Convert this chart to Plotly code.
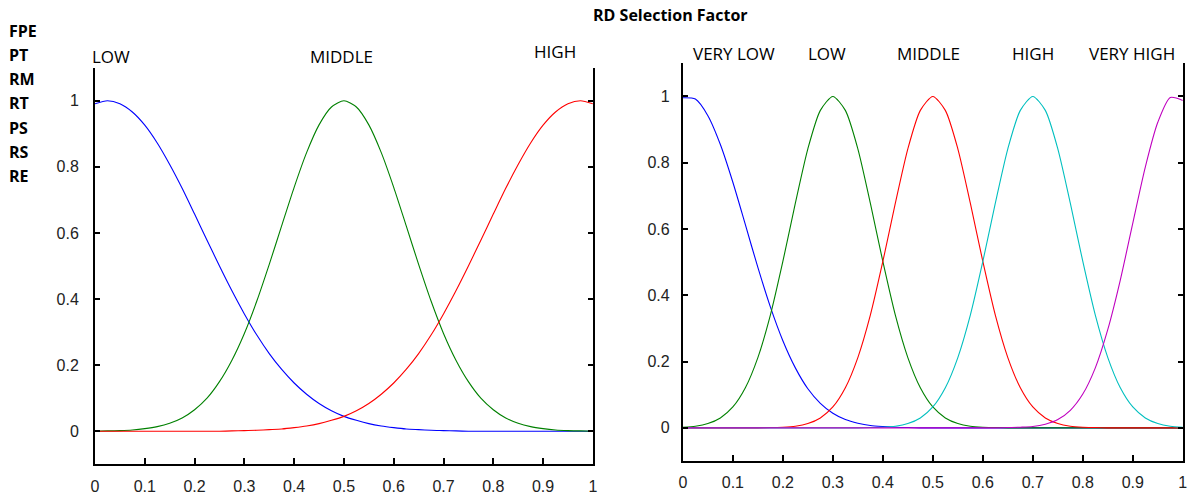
import plotly.graph_objects as go

# Membership functions of the "RD Selection Factor" on [0, 1]
X = [0.000, 0.025, 0.050, 0.075, 0.100, 0.125, 0.150, 0.175, 0.200, 0.225,
     0.250, 0.275, 0.300, 0.325, 0.350, 0.375, 0.400, 0.425, 0.450, 0.475,
     0.500, 0.525, 0.550, 0.575, 0.600, 0.625, 0.650, 0.675, 0.700, 0.725,
     0.750, 0.775, 0.800, 0.825, 0.850, 0.875, 0.900, 0.925, 0.950, 0.975,
     1.000]

# Left panel: three-term partition
low3 = [0.991, 1.000, 0.991, 0.966, 0.926, 0.872, 0.807, 0.735, 0.657, 0.578,
        0.500, 0.425, 0.355, 0.291, 0.235, 0.187, 0.146, 0.112, 0.084, 0.062,
        0.045, 0.033, 0.023, 0.016, 0.011, 0.007, 0.005, 0.003, 0.002, 0.001,
        0.0, 0.0, 0.0, 0.0, 0.0, 0.0, 0.0, 0.0, 0.0, 0.0, 0.0]
middle3 = [0.000, 0.001, 0.002, 0.004, 0.008, 0.014, 0.024, 0.040, 0.065, 0.100,
           0.150, 0.215, 0.296, 0.394, 0.505, 0.622, 0.738, 0.843, 0.927, 0.981,
           1.000, 0.981, 0.927, 0.843, 0.738, 0.622, 0.505, 0.394, 0.296, 0.215,
           0.150, 0.100, 0.065, 0.040, 0.024, 0.014, 0.008, 0.004, 0.002, 0.001,
           0.000]
high3 = [0.0, 0.0, 0.0, 0.0, 0.0, 0.0, 0.0, 0.0, 0.0, 0.0, 0.0,
         0.001, 0.002, 0.003, 0.005, 0.007, 0.011, 0.016, 0.023, 0.033,
         0.045, 0.062, 0.084, 0.112, 0.146, 0.187, 0.235, 0.291, 0.355, 0.425,
         0.500, 0.578, 0.657, 0.735, 0.807, 0.872, 0.926, 0.966, 0.991, 1.000,
         0.991]

# Right panel: five-term partition
very_low5 = [0.996, 0.992, 0.942, 0.855, 0.741, 0.613, 0.484, 0.365, 0.263, 0.181,
             0.118, 0.074, 0.044, 0.025, 0.014, 0.007, 0.004, 0.002, 0.001,
             0.0, 0.0, 0.0, 0.0, 0.0, 0.0, 0.0, 0.0, 0.0, 0.0, 0.0, 0.0,
             0.0, 0.0, 0.0, 0.0, 0.0, 0.0, 0.0, 0.0, 0.0, 0.0]
low5 = [0.002, 0.005, 0.013, 0.030, 0.063, 0.121, 0.212, 0.340, 0.502, 0.678,
        0.842, 0.958, 1.000, 0.958, 0.842, 0.678, 0.502, 0.340, 0.212, 0.121,
        0.063, 0.030, 0.013, 0.005, 0.002, 0.001,
        0.0, 0.0, 0.0, 0.0, 0.0, 0.0, 0.0, 0.0, 0.0, 0.0, 0.0, 0.0, 0.0, 0.0, 0.0]
middle5 = [0.0, 0.0, 0.0, 0.0, 0.0, 0.0, 0.0,
           0.001, 0.002, 0.005, 0.013, 0.030, 0.063, 0.121, 0.212, 0.340,
           0.502, 0.678, 0.842, 0.958, 1.000, 0.958, 0.842, 0.678, 0.502,
           0.340, 0.212, 0.121, 0.063, 0.030, 0.013, 0.005, 0.002, 0.001,
           0.0, 0.0, 0.0, 0.0, 0.0, 0.0, 0.0]
high5 = [0.0, 0.0, 0.0, 0.0, 0.0, 0.0, 0.0, 0.0, 0.0, 0.0, 0.0, 0.0, 0.0, 0.0, 0.0,
         0.001, 0.002, 0.005, 0.013, 0.030, 0.063, 0.121, 0.212, 0.340, 0.502,
         0.678, 0.842, 0.958, 1.000, 0.958, 0.842, 0.678, 0.502, 0.340, 0.212,
         0.121, 0.063, 0.030, 0.013, 0.005, 0.002]
very_high5 = [0.0, 0.0, 0.0, 0.0, 0.0, 0.0, 0.0, 0.0, 0.0, 0.0, 0.0, 0.0, 0.0,
              0.0, 0.0, 0.0, 0.0, 0.0, 0.0, 0.0, 0.0, 0.0, 0.0, 0.0, 0.0, 0.0,
              0.001, 0.002, 0.004, 0.011, 0.025, 0.053, 0.102, 0.181, 0.297,
              0.446, 0.618, 0.787, 0.922, 0.997, 0.988]

x_ticks = [0, 0.1, 0.2, 0.3, 0.4, 0.5, 0.6, 0.7, 0.8, 0.9, 1]
x_tick_text = ["0", "0.1", "0.2", "0.3", "0.4", "0.5", "0.6", "0.7", "0.8", "0.9", "1"]
y_ticks = [0, 0.2, 0.4, 0.6, 0.8, 1]
y_tick_text = ["0", "0.2", "0.4", "0.6", "0.8", "1"]

row_labels = ["FPE", "PT", "RM", "RT", "PS", "RS", "RE"]
title_text = "RD Selection Factor"

BLUE, GREEN, RED, CYAN, MAGENTA = "#0000ff", "#008000", "#ff0000", "#00bfbf", "#bf00bf"

W, H = 1201, 498
px = lambda v: v / W
py = lambda v: 1 - v / H

fig = go.Figure()

def curve(y, color, xa, ya):
    fig.add_trace(go.Scatter(
        x=X, y=y, mode="lines", xaxis=xa, yaxis=ya, showlegend=False,
        line=dict(color=color, width=1.1, shape="spline", smoothing=0.7),
        hoverinfo="skip"))

curve(low3, BLUE, "x", "y")
curve(middle3, GREEN, "x", "y")
curve(high3, RED, "x", "y")

curve(very_low5, BLUE, "x2", "y2")
curve(low5, GREEN, "x2", "y2")
curve(middle5, RED, "x2", "y2")
curve(high5, CYAN, "x2", "y2")
curve(very_high5, MAGENTA, "x2", "y2")

tick_font = dict(family="Liberation Sans, Arial, sans-serif", size=16, color="#222")

def xaxis(domain, anchor):
    return dict(domain=domain, anchor=anchor, range=[0, 1],
                tickvals=x_ticks, ticktext=x_tick_text,
                ticks="inside", ticklen=6, tickwidth=1.5, tickcolor="black",
                showline=True, linewidth=2, linecolor="black", mirror=False,
                showgrid=False, zeroline=False, tickfont=tick_font,
                ticklabelstandoff=6, fixedrange=True)

def yaxis(domain, anchor, standoff):
    return dict(domain=domain, anchor=anchor, range=[-0.1, 1.1],
                tickvals=y_ticks, ticktext=y_tick_text,
                ticks="inside", ticklen=5, tickwidth=1.5, tickcolor="black",
                showline=True, linewidth=2, linecolor="black", mirror="ticks",
                showgrid=False, zeroline=False, tickfont=tick_font,
                ticklabelstandoff=standoff, fixedrange=True)

fig.update_layout(
    width=W, height=H, autosize=False,
    margin=dict(l=0, r=0, t=0, b=0),
    paper_bgcolor="white", plot_bgcolor="white",
    xaxis=xaxis([px(91.7), px(593.3)], "y"),
    yaxis=yaxis([1 - 464.3 / H, 1 - 67.7 / H], "x", 11),
    xaxis2=xaxis([px(684), px(1187.7)], "y2"),
    yaxis2=yaxis([1 - 461 / H, 1 - 63.3 / H], "x2", 8),
)

label_font = dict(family="Open Sans, sans-serif", size=17, color="black")
bold_font = dict(family="Open Sans, sans-serif", size=16, color="black", weight="bold")

def text(s, x, y, font, xanchor="center"):
    fig.add_annotation(text=s, x=px(x), y=py(y), xref="paper", yref="paper",
                       showarrow=False, xanchor=xanchor, yanchor="middle", font=font)

text(title_text, 672, 15, bold_font)
for i, lab in enumerate(row_labels):
    text(lab, 3, 30.7 + 24.2 * i, bold_font, xanchor="left")

# term names above the panels
text("LOW", 107.5, 56.5, label_font)
text("MIDDLE", 340, 56.5, label_font)
text("HIGH", 555, 51.5, label_font)
text("VERY LOW", 736, 53.3, label_font)
text("LOW", 829, 53.3, label_font)
text("MIDDLE", 931, 53.3, label_font)
text("HIGH", 1036.5, 53.3, label_font)
text("VERY HIGH", 1137, 53.3, label_font)

fig.write_html("out.html")
